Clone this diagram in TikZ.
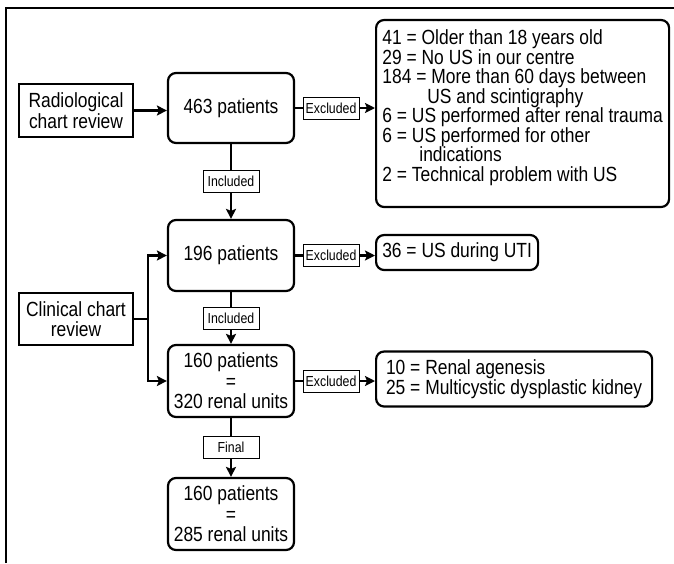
\documentclass[tikz,border=0pt]{standalone}
\usepackage{fontspec}
\setmainfont{Liberation Sans}[FakeStretch=0.85]
\usetikzlibrary{arrows.meta}

\begin{document}
\begin{tikzpicture}[
  x=1pt, y=-1pt,
  font=\fontsize{20.5}{20.5}\selectfont,
  src/.style={draw, line width=2.2pt, align=center, minimum width=114pt,
              minimum height=53pt, inner sep=2pt},
  cnt/.style={draw, line width=2.2pt, rounded corners=8pt, align=center,
              minimum width=126pt, minimum height=71pt, inner sep=2pt},
  excl/.style={draw, line width=2.2pt, rounded corners=8pt, align=left,
               inner xsep=3.5pt, anchor=west,
               font=\fontsize{20.5}{19.5}\selectfont},
  tag/.style={draw, fill=white, line width=0.8pt, inner sep=0pt,
              minimum width=56pt, minimum height=22pt,
              font=\fontsize{14.5}{14.5}\selectfont},
  arr/.style={-{Stealth[length=10pt, width=10pt, inset=2pt]}, line width=2.2pt},
  frame/.style={line width=2pt}]

  \useasboundingbox (0,0) rectangle (674,563);
  \draw[frame] (6,563) -- (6,8) -- (674,8);

  % sources
  \node[src] (rad) at (76,110.5) {Radiological\\ chart review};
  \node[src, minimum height=52pt] (clin) at (76,319) {Clinical chart\\ review};

  % main column
  \node[cnt, minimum height=70pt] (p463) at (231,108) {463 patients};
  \node[cnt] (p196) at (231,255.5) {196 patients};
  \node[cnt, minimum height=72pt] (p160) at (231,381)
    {160 patients\\ =\\ 320 renal units};
  \node[cnt, minimum height=72pt] (p285) at (231,514)
    {160 patients\\ =\\ 285 renal units};

  % exclusions
  \node[excl, minimum width=293pt, minimum height=187pt] (ex1) at (375,113.5)
    {41 = Older than 18 years old\\
     29 = No US in our centre\\
     184 = More than 60 days between\\
     \hspace*{45pt}US and scintigraphy\\
     6 = US performed after renal trauma\\
     6 = US performed for other\\
     \hspace*{37pt}indications\\
     2 = Technical problem with US\\[-4pt]
     \mbox{}};
  \node[excl, minimum width=162pt, minimum height=35pt] (ex2) at (375,252.5)
    {36 = US during UTI};
  \node[excl, minimum width=276pt, minimum height=55pt] (ex3) at (375,379)
    {10 = Renal agenesis\\
     25 = Multicystic dysplastic kidney};

  \draw[arr] (rad.east) -- (rad.east -| p463.west);
  \draw[arr] (p463.east) -- node[tag, pos=.45] {Excluded} (p463.east -| ex1.west);
  \draw[arr] (p463) -- node[tag] {Included} (p196);
  \draw[arr] (p196.east) -- node[tag, pos=.45] {Excluded} (p196.east -| ex2.west);
  \draw[arr] (p196) -- node[tag] {Included} (p160);
  \draw[arr] (p160.east) -- node[tag, pos=.45] {Excluded} (p160.east -| ex3.west);
  \draw[arr] (p160) -- node[tag] {Final} (p285);
  \draw[arr] (clin.east) -- ++(14,0) |- (p196.west);
  \draw[arr] (clin.east) -- ++(14,0) |- (p160.west);
\end{tikzpicture}
\end{document}
